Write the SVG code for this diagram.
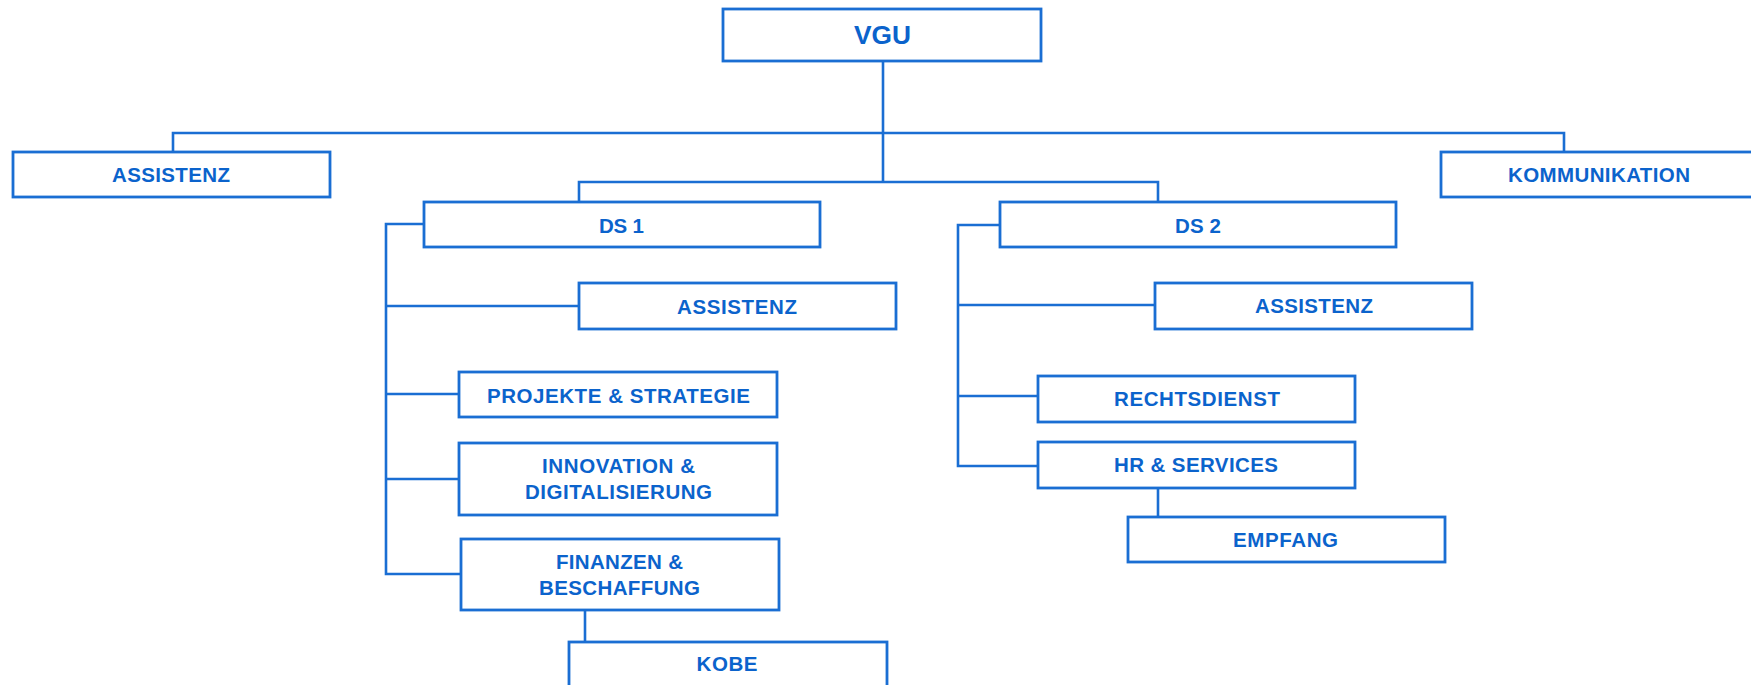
<svg xmlns="http://www.w3.org/2000/svg" width="1751" height="685" viewBox="0 0 1751 685">
<style>
.box{fill:#fff;stroke:#1a6ed3;stroke-width:2.8}
.ln{fill:none;stroke:#1a6ed3;stroke-width:2.6}
.t{font-family:"Liberation Sans",Arial,sans-serif;font-weight:bold;font-size:20.5px;fill:#0b63cc;text-anchor:middle}
.big{font-size:25.5px}
</style>
<rect width="1751" height="685" fill="#fff"/>
<g id="connectors">
<path class="ln" d="M883 61V182"/>
<path class="ln" d="M173 152V133H1564V152"/>
<path class="ln" d="M579 202V182H1158V202"/>
<path class="ln" d="M424 224H386V574H461"/>
<path class="ln" d="M386 306H579"/>
<path class="ln" d="M386 394H459"/>
<path class="ln" d="M386 479H459"/>
<path class="ln" d="M585 610V642"/>
<path class="ln" d="M1000 225H958V466H1038"/>
<path class="ln" d="M958 305H1155"/>
<path class="ln" d="M958 396H1038"/>
<path class="ln" d="M1158 488V517"/>
</g>
<g id="vgu"><rect class="box" x="723" y="9" width="318" height="52"/><text class="t big" x="882.5" y="44" textLength="57" lengthAdjust="spacingAndGlyphs">VGU</text></g>
<g id="assistenz-top"><rect class="box" x="13" y="152" width="317" height="45"/><text class="t" x="171" y="182" textLength="118">ASSISTENZ</text></g>
<g id="kommunikation"><rect class="box" x="1441" y="152" width="317" height="45"/><text class="t" x="1599" y="182" textLength="182">KOMMUNIKATION</text></g>
<g id="ds1"><rect class="box" x="424" y="202" width="396" height="45"/><text class="t" x="621.5" y="233" textLength="45">DS 1</text></g>
<g id="ds2"><rect class="box" x="1000" y="202" width="396" height="45"/><text class="t" x="1198" y="233" textLength="46">DS 2</text></g>
<g id="ds1-assistenz"><rect class="box" x="579" y="283" width="317" height="46"/><text class="t" x="737" y="314" textLength="120">ASSISTENZ</text></g>
<g id="projekte"><rect class="box" x="459" y="372" width="318" height="45"/><text class="t" x="618.5" y="403" textLength="263">PROJEKTE &amp; STRATEGIE</text></g>
<g id="innovation"><rect class="box" x="459" y="443" width="318" height="72"/><text class="t" x="618.5" y="473" textLength="153">INNOVATION &amp;</text><text class="t" x="618.5" y="499" textLength="187">DIGITALISIERUNG</text></g>
<g id="finanzen"><rect class="box" x="461" y="539" width="318" height="71"/><text class="t" x="619.5" y="569" textLength="127">FINANZEN &amp;</text><text class="t" x="619.5" y="595" textLength="161">BESCHAFFUNG</text></g>
<g id="kobe"><rect class="box" x="569" y="642" width="318" height="45"/><text class="t" x="727" y="671" textLength="61">KOBE</text></g>
<g id="ds2-assistenz"><rect class="box" x="1155" y="283" width="317" height="46"/><text class="t" x="1314" y="313" textLength="118">ASSISTENZ</text></g>
<g id="rechtsdienst"><rect class="box" x="1038" y="376" width="317" height="46"/><text class="t" x="1197" y="406" textLength="166">RECHTSDIENST</text></g>
<g id="hr-services"><rect class="box" x="1038" y="442" width="317" height="46"/><text class="t" x="1196" y="472" textLength="164">HR &amp; SERVICES</text></g>
<g id="empfang"><rect class="box" x="1128" y="517" width="317" height="45"/><text class="t" x="1285.5" y="547" textLength="105">EMPFANG</text></g>
</svg>
